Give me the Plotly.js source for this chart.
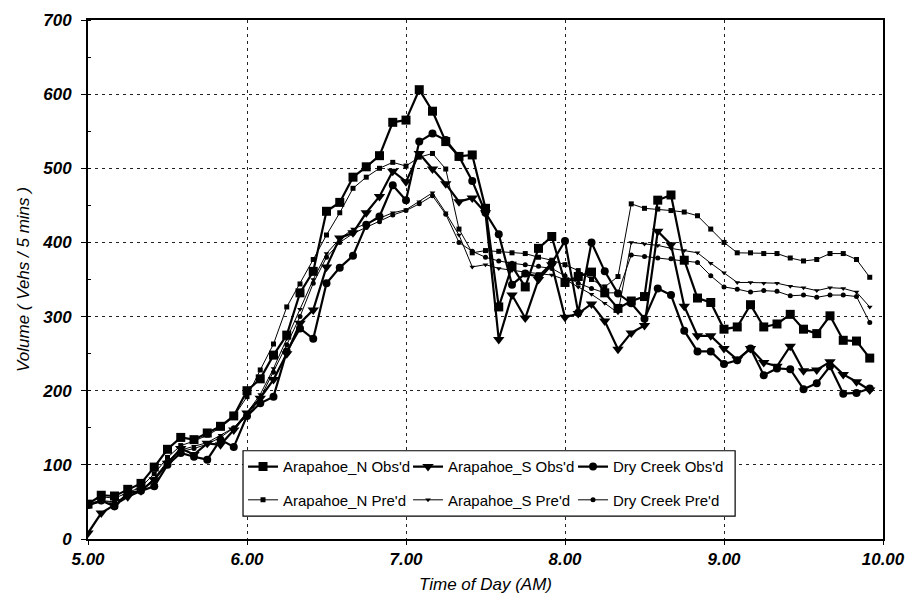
<!DOCTYPE html>
<html>
<head>
<meta charset="utf-8">
<script src="https://cdn.plot.ly/plotly-3.0.1.min.js"></script>
<style>html,body{margin:0;padding:0;background:#fff;}#chart{width:909px;height:605px;}</style>
</head>
<body>
<div id="chart"></div>
<script>
// time axis: 5-minute intervals starting at 5.00 AM (hours)
const START_HOUR = 5;
const STEP_HOURS = 5 / 60;

const seriesNames = ["Arapahoe_N Obs'd", "Arapahoe_S Obs'd", "Dry Creek Obs'd",
                     "Arapahoe_N Pre'd", "Arapahoe_S Pre'd", "Dry Creek Pre'd"];

const arapahoeNObs = [47,59,58,67,75,97,121,137,134,143,152,166,200,216,248,275,332,361,442,454,
  488,502,517,562,565,606,577,536,516,518,446,313,368,340,392,408,346,354,360,332,
  311,321,327,457,464,376,325,319,283,286,316,286,290,303,283,277,301,268,267,244];

const arapahoeSObs = [8,35,46,57,65,80,102,122,114,129,127,147,170,190,215,250,291,309,367,406,
  413,440,462,496,482,520,499,479,455,460,440,269,329,298,350,370,299,304,317,294,
  256,278,288,415,397,314,274,274,257,242,257,238,233,260,227,228,239,222,212,201];

const dryCreekObs = [46,52,44,62,65,71,100,116,111,107,134,124,166,183,192,253,284,270,345,366,
  382,424,435,477,457,536,547,538,516,483,440,411,343,358,354,372,402,305,400,361,
  331,318,297,338,329,281,253,253,236,241,257,221,230,229,202,210,233,196,197,203];

const arapahoeNPre = [48,57,55,63,70,88,110,126,132,140,150,165,192,228,263,313,344,377,410,440,
  473,488,500,508,503,515,520,499,418,386,389,388,386,385,380,376,370,362,350,340,
  354,452,446,445,443,441,436,418,400,386,386,385,385,379,375,377,385,385,377,353];

const arapahoeSPre = [45,50,50,58,65,82,105,120,125,130,140,150,170,195,230,270,310,350,385,405,
  418,425,432,440,444,455,467,440,410,367,370,365,362,360,358,356,350,340,330,318,
  305,400,398,396,392,389,386,372,359,346,346,345,345,341,339,335,339,338,333,313];

const dryCreekPre = [45,52,50,58,66,80,103,118,122,128,137,150,165,190,225,262,300,345,380,400,
  412,420,428,437,443,452,463,438,400,388,380,375,372,370,368,365,355,345,338,332,
  332,383,381,379,378,376,373,355,340,337,333,335,334,328,329,326,329,329,327,292];

const xTickVals = [5, 6, 7, 8, 9, 10];
const xTickText = ["5.00", "6.00", "7.00", "8.00", "9.00", "10.00"];
const yTickVals = [0, 100, 200, 300, 400, 500, 600, 700];

const allValues = [arapahoeNObs, arapahoeSObs, dryCreekObs, arapahoeNPre, arapahoeSPre, dryCreekPre];
const styles = [
  {sym: 'square', size: 9, w: 2.2, legend: 'legend'},
  {sym: 'triangle-down', size: 10, w: 2.2, legend: 'legend'},
  {sym: 'circle', size: 8, w: 2.2, legend: 'legend'},
  {sym: 'square', size: 5, w: 1, legend: 'legend2'},
  {sym: 'triangle-down', size: 5, w: 1, legend: 'legend2'},
  {sym: 'circle', size: 5, w: 1, legend: 'legend2'}
];

const traces = allValues.map((vals, k) => ({
  type: 'scatter',
  mode: 'lines+markers',
  name: seriesNames[k],
  x0: START_HOUR,
  dx: STEP_HOURS,
  y: vals,
  line: {color: '#000', width: styles[k].w},
  marker: {symbol: styles[k].sym, size: styles[k].size, color: '#000'},
  legend: styles[k].legend
}));

const font = 'Liberation Sans, Arial, sans-serif';
const legendCommon = {
  orientation: 'h',
  xanchor: 'left',
  yanchor: 'middle',
  x: 0.195,
  bgcolor: 'rgba(0,0,0,0)',
  borderwidth: 0,
  font: {family: font, size: 15, color: '#000'},
  entrywidth: 120,
  entrywidthmode: 'pixels',
  itemwidth: 30,
  tracegroupgap: 0
};

const layout = {
  width: 909,
  height: 605,
  margin: {l: 88, r: 26, t: 20, b: 66},
  paper_bgcolor: '#fff',
  plot_bgcolor: '#fff',
  showlegend: true,
  legend: Object.assign({}, legendCommon, {y: 0.139}),
  legend2: Object.assign({}, legendCommon, {y: 0.075}),
  xaxis: {
    range: [5, 10],
    tickvals: xTickVals,
    ticktext: xTickText,
    ticks: 'outside',
    ticklen: 4,
    tickcolor: '#000',
    showline: true,
    linecolor: '#000',
    linewidth: 2,
    mirror: true,
    showgrid: true,
    gridcolor: '#222',
    gridwidth: 1,
    griddash: '3px,4px',
    zeroline: false,
    tickfont: {family: font, size: 17, color: '#000', weight: 'bold', style: 'italic'},
    title: {text: 'Time of Day (AM)', font: {family: font, size: 17, color: '#000', style: 'italic'}, standoff: 10}
  },
  yaxis: {
    range: [0, 700],
    tickvals: yTickVals,
    ticks: 'outside',
    ticklen: 5,
    tickcolor: '#000',
    ticklabelstandoff: 6,
    showline: true,
    linecolor: '#000',
    linewidth: 2,
    mirror: true,
    showgrid: true,
    gridcolor: '#222',
    gridwidth: 1,
    griddash: '3px,4px',
    zeroline: false,
    minor: {dtick: 50, ticks: 'inside', ticklen: 3, tickcolor: '#000', showgrid: false},
    tickfont: {family: font, size: 17, color: '#000', weight: 'bold', style: 'italic'},
    title: {text: 'Volume ( Vehs / 5 mins )', font: {family: font, size: 17, color: '#000', style: 'italic'}, standoff: 8}
  },
  shapes: [{
    type: 'rect', xref: 'paper', yref: 'paper',
    x0: 0.195, x1: 0.814, y0: 0.044, y1: 0.17,
    fillcolor: '#fff', line: {color: '#000', width: 1.2}, layer: 'above'
  }]
};

Plotly.newPlot('chart', traces, layout, {displayModeBar: false, staticPlot: true});
</script>
</body>
</html>
